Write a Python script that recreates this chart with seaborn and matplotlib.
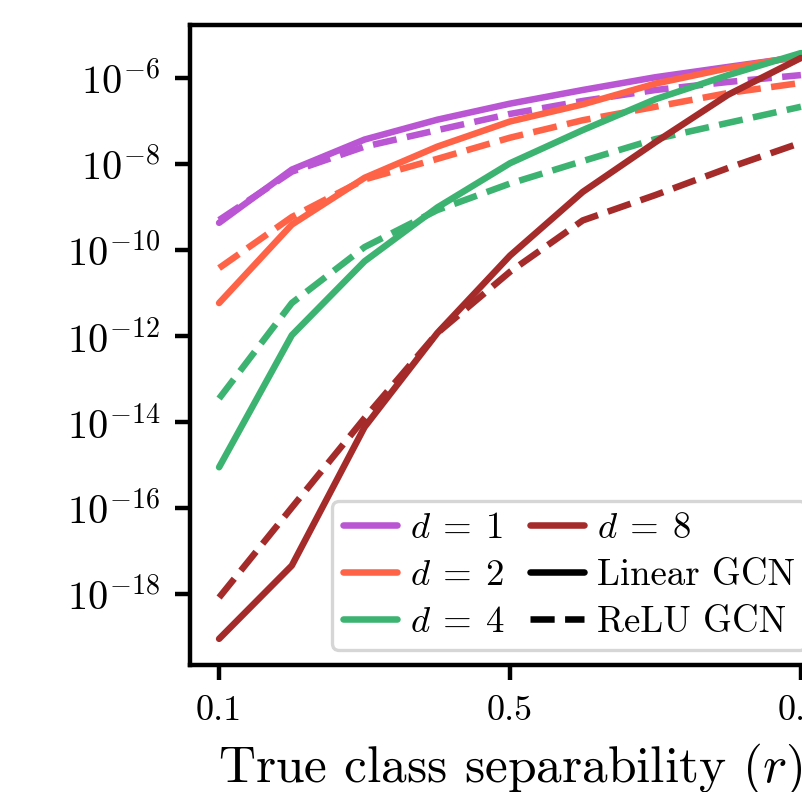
import matplotlib
matplotlib.use("Agg")
import matplotlib.pyplot as plt
from matplotlib.lines import Line2D
import numpy as np
import pandas as pd
import seaborn as sns

# true class separability r
r_values = [0.1, 0.2, 0.3, 0.4, 0.5, 0.6, 0.7, 0.8, 0.9]

# values (log-scale y)
linear_d1 = [4.4e-10, 7.6e-9, 3.8e-8, 1.1e-7, 2.6e-7, 5.4e-7, 1.07e-6, 1.86e-6, 3.2e-6]
relu_d1 = [5.1e-10, 6.8e-9, 2.6e-8, 6.3e-8, 1.5e-7, 3.0e-7, 5.4e-7, 8.3e-7, 1.2e-6]
linear_d2 = [6.0e-12, 4.0e-10, 4.9e-9, 2.6e-8, 1.0e-7, 2.5e-7, 7.6e-7, 1.74e-6, 3.3e-6]
relu_d2 = [3.9e-11, 6.0e-10, 4.5e-9, 1.35e-8, 4.2e-8, 1.07e-7, 2.2e-7, 4.6e-7, 7.9e-7]
linear_d4 = [9.1e-16, 1.07e-12, 5.6e-11, 1.0e-9, 1.07e-8, 6.3e-8, 3.3e-7, 1.2e-6, 3.9e-6]
relu_d4 = [3.6e-14, 6.0e-12, 1.2e-10, 8.7e-10, 3.6e-9, 1.2e-8, 3.9e-8, 9.3e-8, 2.2e-7]
linear_d8 = [9.3e-20, 4.7e-18, 7.8e-15, 1.2e-12, 7.6e-11, 2.3e-9, 3.3e-8, 4.2e-7, 3.0e-6]
relu_d8 = [8.5e-19, 1.05e-16, 1.26e-14, 1.2e-12, 3.2e-11, 5.0e-10, 1.95e-9, 8.3e-9, 3.2e-8]

depths = [1, 2, 4, 8]
models = ["Linear GCN", "ReLU GCN"]
colors = {1: "mediumorchid", 2: "tomato", 4: "mediumseagreen", 8: "brown"}


def main():
    sns.set_style("ticks")
    plt.rcParams["font.family"] = ["serif"]
    plt.rcParams["font.serif"] = ["cmr10", "DejaVu Serif"]
    plt.rcParams["mathtext.fontset"] = "cm"
    plt.rcParams["axes.formatter.use_mathtext"] = True
    plt.rcParams["text.color"] = "black"
    plt.rcParams["xtick.color"] = "black"
    plt.rcParams["ytick.color"] = "black"
    plt.rcParams["axes.labelcolor"] = "black"

    series = {
        (1, "Linear GCN"): linear_d1, (1, "ReLU GCN"): relu_d1,
        (2, "Linear GCN"): linear_d2, (2, "ReLU GCN"): relu_d2,
        (4, "Linear GCN"): linear_d4, (4, "ReLU GCN"): relu_d4,
        (8, "Linear GCN"): linear_d8, (8, "ReLU GCN"): relu_d8,
    }
    rows = []
    for (d, m), vals in series.items():
        for r, v in zip(r_values, vals):
            rows.append({"d": d, "model": m, "r": r, "value": v})
    df = pd.DataFrame(rows)

    fig = plt.figure(figsize=(8.02, 7.92), dpi=100)
    ax = fig.add_axes([190 / 802, 127 / 792, 640 / 802, 640 / 792])

    lw = 4.7
    sns.lineplot(data=df, x="r", y="value", hue="d", style="model",
                 palette=colors, hue_order=depths, style_order=models,
                 dashes={"Linear GCN": "", "ReLU GCN": (3.7, 1.6)},
                 linewidth=lw, legend=False, ax=ax)

    ax.set_yscale("log")
    ax.set_xlim(0.06, 0.94)
    ax.set_ylim(10 ** -19.64, 10 ** -4.756)
    ax.set_xticks([0.1, 0.5, 0.9])
    ax.set_xticklabels(["0.1", "0.5", "0.9"])
    ax.set_yticks([1e-18, 1e-16, 1e-14, 1e-12, 1e-10, 1e-8, 1e-6])
    ax.minorticks_off()
    ax.tick_params(axis="both", length=10.5, width=3.2, pad=11, color="black")
    ax.tick_params(axis="x", labelsize=26)
    ax.tick_params(axis="y", labelsize=29)
    for s in ax.spines.values():
        s.set_linewidth(3.2)
        s.set_color("black")

    ax.set_xlabel("True class separability ($r$)", fontsize=37, labelpad=11)
    ax.set_ylabel("")

    handles = [Line2D([], [], color=colors[d], lw=lw) for d in depths[:3]]
    handles += [Line2D([], [], color=colors[8], lw=lw),
                Line2D([], [], color="black", lw=lw),
                Line2D([], [], color="black", lw=lw, dashes=(3.7, 1.6))]
    labels = ["$d\\:=\\:1$", "$d\\:=\\:2$", "$d\\:=\\:4$", "$d\\:=\\:8$",
              "Linear GCN", "ReLU GCN"]
    leg = ax.legend(handles, labels, ncol=2, loc="lower left",
                    bbox_to_anchor=(0.222, 0.0234), fontsize=26.5,
                    frameon=True, fancybox=True, framealpha=0.8,
                    borderaxespad=0, borderpad=0.3, columnspacing=0.7,
                    handlelength=1.47, handletextpad=0.35, labelspacing=0.37)
    leg.get_frame().set_edgecolor("0.8")
    leg.get_frame().set_linewidth(2.4)

    plt.savefig("out.png", dpi=100)


if __name__ == "__main__":
    main()
